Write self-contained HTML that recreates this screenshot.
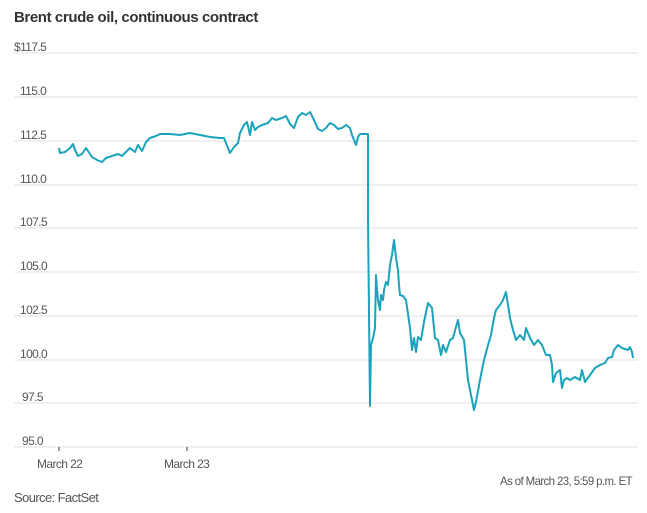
<!DOCTYPE html>
<html><head><style>
body{margin:0;background:#fff;}
svg{display:block;font-family:"Liberation Sans",sans-serif;}
</style></head><body>
<svg width="647" height="513" viewBox="0 0 647 513">
<text x="14" y="22" font-size="15" font-weight="bold" fill="#333" letter-spacing="-0.4">Brent crude oil, continuous contract</text>
<g stroke="#ececec" stroke-width="1.5">
<line x1="14" x2="638" y1="53" y2="53"/><line x1="14" x2="638" y1="97" y2="97"/>
<line x1="14" x2="638" y1="141" y2="141"/><line x1="14" x2="638" y1="185" y2="185"/>
<line x1="14" x2="638" y1="228" y2="228"/><line x1="14" x2="638" y1="272" y2="272"/>
<line x1="14" x2="638" y1="316" y2="316"/><line x1="14" x2="638" y1="360" y2="360"/>
<line x1="14" x2="638" y1="403" y2="403"/><line x1="14" x2="638" y1="447" y2="447"/>
</g>
<g font-size="12" fill="#555" letter-spacing="-0.6">
<text x="14" y="51">$117.5</text><text x="20" y="95">115.0</text><text x="20" y="139">112.5</text>
<text x="20" y="183">110.0</text><text x="20" y="226">107.5</text><text x="20" y="270">105.0</text>
<text x="20" y="314">102.5</text><text x="20" y="358">100.0</text><text x="22" y="401">97.5</text>
<text x="22" y="445">95.0</text>
<text x="37" y="468">March 22</text><text x="164" y="468">March 23</text>
<text x="632" y="485" text-anchor="end" textLength="132" lengthAdjust="spacingAndGlyphs">As of March 23, 5:59 p.m. ET</text>
<text x="14" y="502" font-size="13">Source: FactSet</text>
</g>
<g stroke="#333" stroke-width="1"><line x1="59" x2="59" y1="447" y2="451"/><line x1="187" x2="187" y1="447" y2="451"/></g>
<polyline fill="none" stroke="#1aa3bb" stroke-width="2" stroke-linejoin="round" points="59,148 60,153 65,152 70,148 73,144 75,150 78,156 82,154 86,148 88,151 92,157 97,160 102,162 106,158 112,156 118,154 122,156 126,152 130,148 135,152 138,145 142,151 146,142 150,138 156,136 160,134 170,134 180,135 190,133 200,135 210,137 220,138 224,138 228,148 230,153 234,147 238,143 240,133 244,125 247,122 250,135 252,122 255,130 258,127 262,125 268,123 272,118 276,120 282,118 286,116 290,124 294,128 298,117 302,113 306,115 310,112 314,120 318,129 322,131 326,128 330,123 334,125 338,129 342,128 346,125 350,128 352,135 356,145 358,137 360,134 362,134 365,134 368,134 368,220 370,406 371,345 373,338 375,328 376,275 377,290 378,300 380,310 381,295 383,300 384,290 386,282 388,285 390,265 392,255 394,240 396,258 398,270 399,285 400,295 403,296 406,300 410,328 412,350 414,338 416,352 418,337 421,340 424,322 428,303 432,308 435,338 438,340 441,355 443,345 446,352 450,340 453,338 456,327 458,320 460,333 464,340 468,380 472,400 474,410 476,402 480,380 484,360 488,345 491,335 494,318 496,310 500,305 503,300 506,292 508,305 510,318 513,330 516,340 520,335 524,340 526,328 530,338 534,345 538,340 542,345 546,355 550,355 552,365 553,382 556,373 560,370 562,388 564,380 567,378 570,380 575,377 580,380 582,370 585,382 590,375 595,368 600,365 605,363 608,358 612,357 614,350 618,345 622,348 628,350 630,347 632,352 633,358"/>
</svg>
</body></html>
